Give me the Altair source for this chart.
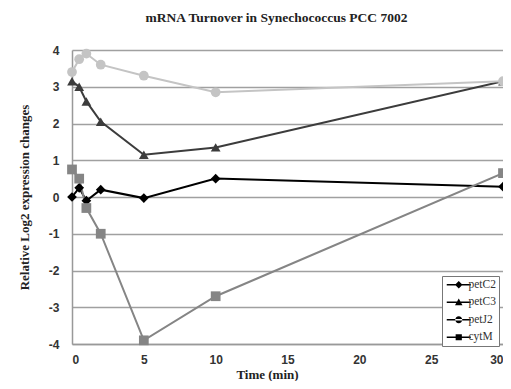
import altair as alt
import pandas as pd

times = [0, 0.5, 1, 2, 5, 10, 30]
series_names = ["petC2", "petC3", "petJ2", "cytM"]
petC2 = [0.0, 0.25, -0.1, 0.2, -0.03, 0.5, 0.28]
petC3 = [3.15, 3.0, 2.6, 2.05, 1.15, 1.35, 3.15]
petJ2 = [3.4, 3.75, 3.9, 3.6, 3.3, 2.85, 3.15]
cytM = [0.75, 0.5, -0.3, -1.0, -3.9, -2.7, 0.65]
colors = ["#000000", "#3c3c3c", "#c4c4c4", "#858585"]
shapes = ["diamond", "triangle-up", "circle", "square"]
x_ticks = [0, 5, 10, 15, 20, 25, 30]
y_ticks = [-4, -3, -2, -1, 0, 1, 2, 3, 4]

LINE = "M-2.4,-0.16H2.4V0.16H-2.4Z"
legend_paths = [
    LINE + "M0,-0.75L0.75,0L0,0.75L-0.75,0Z",
    LINE + "M0,-0.75L0.75,0.6L-0.75,0.6Z",
    LINE + "M-0.7,0A0.7,0.7 0 1,0 0.7,0A0.7,0.7 0 1,0 -0.7,0Z",
    LINE + "M-0.62,-0.62H0.62V0.62H-0.62Z",
]

rows = []
for name, vals in zip(series_names, [petC2, petC3, petJ2, cytM]):
    for t, v in zip(times, vals):
        rows.append({"time": t, "value": v, "series": name})
df = pd.DataFrame(rows)

x_enc = alt.X("time:Q", scale=alt.Scale(domain=[0, 30], nice=False),
              axis=alt.Axis(values=x_ticks, title="Time (min)", grid=False, ticks=False,
                            labelPadding=10, titlePadding=3, titleX=195,
                            domainColor="#999999", domainWidth=1.5))
y_enc = alt.Y("value:Q", scale=alt.Scale(domain=[-4, 4], nice=False),
              axis=alt.Axis(values=y_ticks, title="Relative Log2 expression changes",
                            ticks=False, labelPadding=13, titlePadding=17,
                            labelExpr="datum.value < 0 ? '-' + abs(datum.value) : datum.label",
                            gridColor="#a0a0a0", gridWidth=1.5,
                            domainColor="#999999", domainWidth=1.5))
color_enc = alt.Color("series:N", scale=alt.Scale(domain=series_names, range=colors), legend=None)
shape_enc = alt.Shape("series:N", scale=alt.Scale(domain=series_names, range=shapes), legend=None)

base = alt.Chart(df)
lines = base.mark_line(strokeWidth=2).encode(x=x_enc, y=y_enc, color=color_enc,
                                              order=alt.Order("time:Q"))
points = base.mark_point(filled=True, size=95, opacity=1).encode(x=x_enc, y=y_enc,
                                                                color=color_enc, shape=shape_enc)

legend_layer = base.mark_point(filled=True, size=100).encode(
    x=x_enc, y=y_enc,
    fill=alt.Fill("series:N", scale=alt.Scale(domain=series_names, range=colors),
                  legend=alt.Legend(title=None)),
    shape=alt.Shape("series:N", scale=alt.Scale(domain=series_names, range=legend_paths),
                    legend=alt.Legend(title=None)),
).transform_filter("false")

chart = alt.layer(lines, points, legend_layer).resolve_scale(shape="independent").properties(
    width=431, height=294,
    autosize=alt.AutoSizeParams(type="none"),
    padding={"left": 64, "top": 42, "right": 0, "bottom": 37},
    title=alt.TitleParams("mRNA Turnover in Synechococcus PCC 7002", font="Liberation Serif",
                          fontSize=13.5, fontWeight="bold", color="#222222", anchor="middle",
                          dx=-11, offset=20),
).configure_view(stroke=None).configure_axis(
    labelFont="Liberation Sans", labelFontSize=12, labelFontWeight="bold", labelColor="#333333",
    titleFont="Liberation Serif", titleFontSize=13, titleFontWeight="bold", titleColor="#222222",
).configure_legend(
    orient="none", legendX=370, legendY=226, padding=3, strokeColor="#777777",
    fillColor="#ffffff", labelFont="Liberation Serif", labelFontSize=11.5, labelColor="#333333",
    symbolOffset=8, labelOffset=4, rowPadding=4.5, symbolStrokeWidth=0, symbolOpacity=1,
)

chart.save("out.html", embed_options={"renderer": "svg", "actions": False})
